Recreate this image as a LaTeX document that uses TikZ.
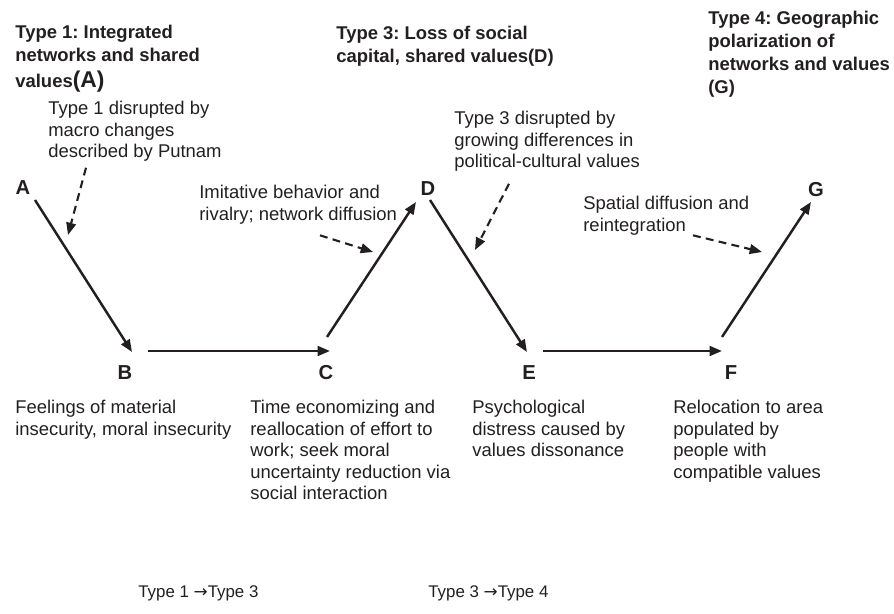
\documentclass[tikz,border=0pt]{standalone}
\usepackage{fontspec}
\setmainfont{Liberation Sans}
\newfontfamily\arrowfont{DejaVu Sans}
\usepackage{tikz}
\usetikzlibrary{arrows.meta, calc, positioning}
\definecolor{Ink}{HTML}{231F20}
\frenchspacing

\tikzset{
    heading/.style={anchor=north west, inner sep=0pt, align=left, text=Ink,
        font=\fontsize{10.5}{13}\selectfont\bfseries},
    note/.style={anchor=north west, inner sep=0pt, align=left, text=Ink,
        font=\fontsize{10.5}{12.2}\selectfont},
    letter/.style={inner sep=0pt, text=Ink, font=\fontsize{11.5}{12}\selectfont\bfseries},
    flow/.style={Ink, line width=1.4pt, -{Triangle[length=7pt, width=5.5pt]}},
    hint/.style={Ink, line width=1.2pt, dash pattern=on 4.5pt off 3pt,
        -{Triangle[length=7pt, width=5.5pt]}}
}

\begin{document}
\begin{tikzpicture}[x=0.02cm, y=-0.02cm]
    \useasboundingbox (0,0) rectangle (894,614);
    % type headings
    \node[heading] (t1) at (15,25) {Type 1: Integrated\\networks and shared\\[2pt]values{\fontsize{13}{13}\selectfont(A)}};
    \node[heading] (t3) at (336,26) {Type 3: Loss of social\\capital, shared values(D)};
    \node[heading] (t4) at (708,11) {Type 4: Geographic\\polarization of\\networks and values\\(G)};
    % stages
    \node[letter] (A) at (23,188) {A};
    \node[letter] (B) at (125,373) {B};
    \node[letter] (C) at (326,373) {C};
    \node[letter] (D) at (428,189) {D};
    \node[letter] (E) at (529,373) {E};
    \node[letter] (F) at (731,373) {F};
    \node[letter] (G) at (816,190) {G};
    % what drives each step
    \node[note] (putnam) at (48,101) {Type 1 disrupted by\\macro changes\\described by Putnam};
    \node[note] (imitate) at (199,185) {Imitative behavior and\\rivalry; network diffusion};
    \node[note] (clash) at (454,111) {Type 3 disrupted by\\growing differences in\\political-cultural values};
    \node[note] (spatial) at (583,196) {Spatial diffusion and\\reintegration};
    % what happens at the low points
    \node[note] (descB) at (15,400) {Feelings of material\\insecurity, moral insecurity};
    \node[note] (descC) at (250,400) {Time economizing and\\reallocation of effort to\\work; seek moral\\uncertainty reduction via\\social interaction};
    \node[note] (descE) at (472,400) {Psychological\\distress caused by\\values dissonance};
    \node[note] (descF) at (673,400) {Relocation to area\\populated by\\people with\\compatible values};
    \node[note, font=\fontsize{9.6}{11}\selectfont] (s13) at (138,585) {Type 1 {\arrowfont →}Type 3};
    \node[note, font=\fontsize{9.6}{11}\selectfont] (s34) at (428,585) {Type 3 {\arrowfont →}Type 4};

    \draw[flow] ([shift={(12,12)}]A.center) -- ([shift={(7,-21)}]B.center);
    \draw[flow] ([shift={(23,-22)}]B.center) -- ([shift={(4,-22)}]C.center);
    \draw[flow] ([shift={(1,-36)}]C.center) -- ([shift={(-12,13)}]D.center);
    \draw[flow] ([shift={(2,11)}]D.center) -- ([shift={(-2,-21)}]E.center);
    \draw[flow] ([shift={(14,-22)}]E.center) -- ([shift={(-9,-22)}]F.center);
    \draw[flow] ([shift={(-9,-36)}]F.center) -- ([shift={(-5,12)}]G.center);

    \coordinate (hA) at (68,235);
    \coordinate (hC) at (373,252);
    \coordinate (hD) at (475,250);
    \coordinate (hF) at (762,252);
    \draw[hint] ([shift={(38,6)}]putnam.south west) -- (hA);
    \draw[hint] ([shift={(121,11)}]imitate.south west) -- (hC);
    \draw[hint] ([shift={(55,12)}]clash.south west) -- (hD);
    \draw[hint] ([shift={(110,0)}]spatial.south west) -- (hF);
\end{tikzpicture}
\end{document}
